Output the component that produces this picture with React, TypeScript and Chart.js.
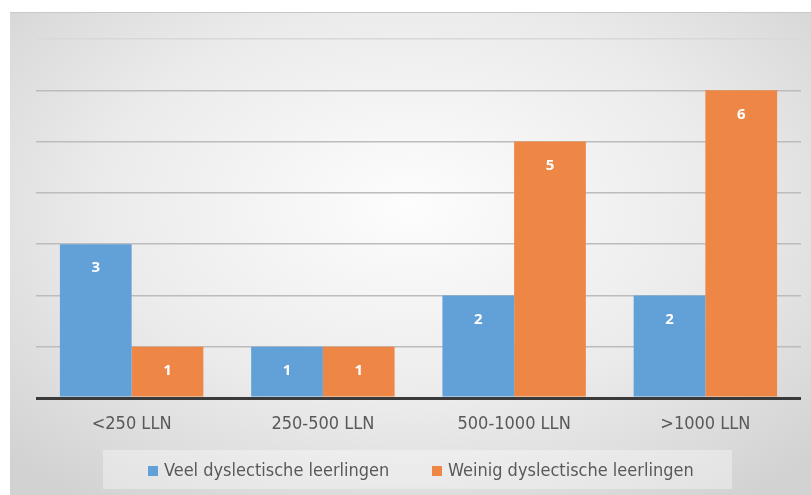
import React, { useEffect, useRef } from "react";
import { Chart, registerables } from "chart.js";

Chart.register(...registerables);

const categories = ["<250 LLN", "250-500 LLN", "500-1000 LLN", ">1000 LLN"];
const veel = [3, 1, 2, 2];
const weinig = [1, 1, 5, 6];
const seriesNames = ["Veel dyslectische leerlingen", "Weinig dyslectische leerlingen"];
const yMax = 7;

const FONT = "'Liberation Sans Narrow', 'DejaVu Sans Condensed', 'Noto Sans', sans-serif";

const labelPlugin = {
  id: "barLabels",
  afterDatasetsDraw(chart: any) {
    const ctx = chart.ctx;
    ctx.save();
    ctx.fillStyle = "#ffffff";
    ctx.font = "bold 15px 'Open Sans', 'Noto Sans', sans-serif";
    ctx.textAlign = "center";
    ctx.textBaseline = "middle";
    chart.data.datasets.forEach((ds: any, i: number) => {
      const meta = chart.getDatasetMeta(i);
      meta.data.forEach((bar: any, j: number) => {
        ctx.fillText(String(ds.data[j]), bar.x, bar.y + 24);
      });
    });
    ctx.restore();
  },
  afterDraw(chart: any) {
    const ctx = chart.ctx;
    ctx.save();
    // legend box
    ctx.fillStyle = "rgba(255,255,255,0.35)";
    ctx.fillRect(93, 437, 629, 39);
    ctx.font = "18px " + FONT;
    ctx.textBaseline = "middle";
    ctx.textAlign = "left";
    const starts = [138, 422];
    chart.data.datasets.forEach((ds: any, i: number) => {
      const x = starts[i];
      ctx.fillStyle = ds.backgroundColor;
      ctx.fillRect(x, 453, 10, 10);
      ctx.fillStyle = "#595959";
      ctx.fillText(ds.label, x + 16, 458);
    });
    ctx.restore();
  },
};

export default function App() {
  const ref = useRef<HTMLCanvasElement>(null);
  useEffect(() => {
    if (!ref.current) return;
    const chart = new Chart(ref.current, {
      type: "bar",
      data: {
        labels: categories,
        datasets: [
          { label: seriesNames[0], data: veel, backgroundColor: "#62a0d8" },
          { label: seriesNames[1], data: weinig, backgroundColor: "#ee8746" },
        ],
      },
      options: {
        animation: false,
        responsive: false,
        layout: { padding: { left: 26, right: 10, top: 26, bottom: 0 } },
        plugins: { legend: { display: false }, tooltip: { enabled: false } },
        datasets: { bar: { categoryPercentage: 0.75, barPercentage: 1 } },
        scales: {
          x: {
            grid: { display: false, drawTicks: false },
            border: { display: false },
            ticks: { color: "#595959", font: { family: FONT, size: 18 }, padding: 16 },
            afterFit: (s: any) => { s.height = 97; },
          },
          y: {
            min: 0,
            max: yMax,
            ticks: { display: false, stepSize: 1 },
            border: { display: false },
            grid: {
              drawTicks: false,
              color: (c: any) => (c.tick.value === 0 ? "#3a3a3a" : c.tick.value === yMax ? "#d8d8d8" : "#bcbcbc"),
              lineWidth: (c: any) => (c.tick.value === 0 ? 3 : 1.5),
            },
            afterFit: (s: any) => { s.width = 0; },
          },
        },
      },
      plugins: [labelPlugin],
    });
    return () => chart.destroy();
  }, []);
  return (
    <div
      style={{
        position: "absolute",
        left: 10,
        top: 12,
        width: 801,
        height: 483,
        background: "radial-gradient(ellipse 70% 75% at 50% 40%, #fdfdfd 0%, #ebebeb 55%, #d2d2d2 100%)",
        borderTop: "1px solid #c8c8c8",
        boxSizing: "border-box",
      }}
    >
      <canvas ref={ref} width={801} height={482} style={{ display: "block" }} />
    </div>
  );
}
